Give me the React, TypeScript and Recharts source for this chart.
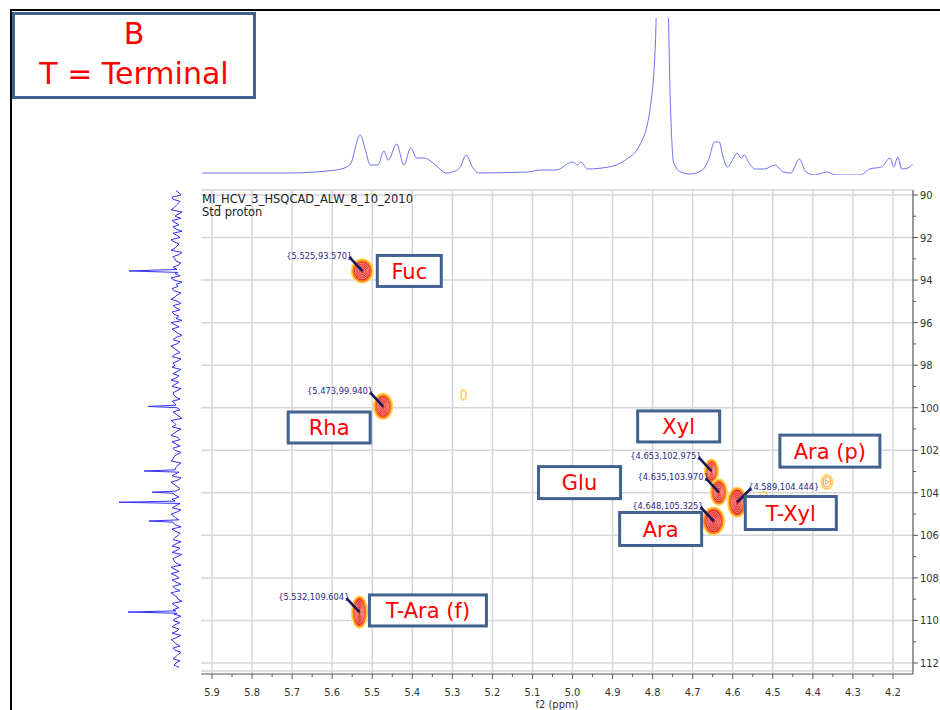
import React from 'react';
import { ScatterChart, Scatter, XAxis, YAxis, CartesianGrid, LineChart, Line } from 'recharts';

const FONT = '"DejaVu Sans", Verdana, sans-serif';
const TICKFONT = '"DejaVu Sans Condensed", "DejaVu Sans", sans-serif';

// ---------- axes ----------
const X_DOMAIN: [number, number] = [4.15, 5.9275];
const Y_DOMAIN: [number, number] = [89.765, 112.517];
const xMajorTicks = [5.9, 5.8, 5.7, 5.6, 5.5, 5.4, 5.3, 5.2, 5.1, 5.0, 4.9, 4.8, 4.7, 4.6, 4.5, 4.4, 4.3, 4.2];
const xMinorTicks = [5.85, 5.75, 5.65, 5.55, 5.45, 5.35, 5.25, 5.15, 5.05, 4.95, 4.85, 4.75, 4.65, 4.55, 4.45, 4.35, 4.25];
const yMajorTicks = [90, 92, 94, 96, 98, 100, 102, 104, 106, 108, 110, 112];
const yMinorTicks = [91, 93, 95, 97, 99, 101, 103, 105, 107, 109, 111];
const gridXValues = [...xMajorTicks, X_DOMAIN[0]];
const gridYValues = [Y_DOMAIN[0], ...yMajorTicks, 112.38];

// ---------- 2D cross peaks (f2 1H ppm, f1 13C ppm) ----------
const peakNames = ['Fuc', 'Rha', 'T-Ara (f)', 'Xyl', 'Glu', 'T-Xyl', 'Ara'];
const peakH = [5.525, 5.473, 5.532, 4.653, 4.635, 4.589, 4.648];
const peakC = [93.570, 99.940, 109.604, 102.975, 103.970, 104.444, 105.325];

const minorNames = ['u1', 'Ara (p)', 'u2'];
const minorH = [5.272, 4.365, 4.523];
const minorC = [99.40, 103.49, 104.0];

// ---------- label boxes (centre in ppm) ----------
const boxLabels = ['Fuc', 'Rha', 'T-Ara (f)', 'Xyl', 'Glu', 'Ara', 'T-Xyl', 'Ara (p)'];
const boxH = [5.4075, 5.6075, 5.361, 4.735, 4.9825, 4.78, 4.455, 4.3575];
const boxC = [93.57, 100.93, 109.53, 100.88, 103.52, 105.70, 104.95, 102.04];

// ---------- 1D projections ----------
const topSpectrumPpm = [5.924, 5.71, 5.59, 5.556, 5.53, 5.517, 5.505, 5.486, 5.471, 5.46, 5.439, 5.421, 5.404, 5.389, 5.37, 5.351, 5.334, 5.316, 5.299, 5.28, 5.266, 5.25, 5.235, 5.113, 5.077, 5.041, 5.0, 4.987, 4.979, 4.963, 4.91, 4.868, 4.832, 4.808, 4.793, 4.788, 4.764, 4.756, 4.748, 4.730, 4.706, 4.676, 4.658, 4.646, 4.634, 4.624, 4.613, 4.598, 4.589, 4.579, 4.571, 4.561, 4.544, 4.521, 4.494, 4.474, 4.455, 4.434, 4.417, 4.395, 4.366, 4.342, 4.282, 4.258, 4.229, 4.207, 4.198, 4.188, 4.178, 4.163, 4.151];
const topSpectrumInt = [2, 2, 5, 10, 40, 25, 10, 10, 24, 15, 31, 10, 27, 17, 17, 13, 7, 2, 3, 8, 20, 8, 2, 3, 5, 5, 13, 10, 13, 6, 8, 15, 30, 62, 132, 200, 200, 75, 13, 3, 1, 5, 18, 33, 33, 18, 8, 17, 22, 17, 20, 13, 6, 6, 10, 3, 2, 16, 3, 0, 3, 0, 0, 6, 8, 17, 8, 18, 6, 7, 11];

const leftNoiseA: [number, number][] = [
  [89.8, 9], [90.0, 4], [90.2, 12], [90.4, 7], [90.6, 11], [90.8, 3], [91.0, 10], [91.2, 13], [91.4, 6], [91.6, 9],
  [91.8, 12], [92.0, 5], [92.2, 11], [92.4, 8], [92.6, 14], [92.8, 6], [93.0, 10], [93.2, 4], [93.4, 12], [93.8, 5],
  [94.0, 11], [94.2, 9], [94.4, 13], [94.6, 4], [94.8, 10], [95.0, 7], [95.2, 12], [95.4, 5], [95.6, 11], [95.8, 9],
  [96.0, 14], [96.2, 6], [96.4, 10], [96.6, 3], [96.8, 12], [97.0, 8], [97.2, 11], [97.4, 5], [97.6, 13], [97.8, 7],
  [98.0, 10], [98.2, 4], [98.4, 12], [98.6, 9], [98.8, 6], [99.0, 13], [99.2, 8], [99.4, 11], [99.6, 5], [99.8, 10],
  [100.2, 12], [100.4, 6], [100.6, 14], [100.8, 9], [101.0, 4], [101.2, 11], [101.4, 7], [101.6, 13], [101.8, 5], [102.0, 10],
  [102.2, 8], [102.4, 12], [102.6, 4], [102.8, 9], [103.2, 13], [103.4, 7], [103.6, 11], [103.8, 5], [104.2, 6], [104.7, 13],
  [104.9, 8], [105.1, 11], [105.6, 4], [105.8, 10], [106.0, 7], [106.2, 12], [106.4, 9], [106.6, 5], [106.8, 13], [107.0, 8],
  [107.2, 11], [107.4, 4], [107.6, 10], [107.8, 14], [108.0, 6], [108.2, 9], [108.4, 12], [108.6, 5], [108.8, 11], [109.0, 7],
  [109.2, 13], [109.4, 6], [109.8, 4], [110.0, 12], [110.2, 10], [110.4, 6], [110.6, 13], [110.8, 8], [111.0, 11], [111.2, 5],
  [111.4, 10], [111.6, 7], [111.8, 12], [112.0, 9], [112.2, 6],
];
const leftNoiseB: [number, number][] = [
  [89.9, 6], [90.1, 13], [90.3, 5], [90.5, 9], [90.7, 14], [90.9, 7], [91.1, 4], [91.3, 10], [91.5, 12], [91.7, 3],
  [91.9, 8], [92.1, 14], [92.3, 6], [92.5, 10], [92.7, 3], [92.9, 12], [93.1, 9], [93.3, 7], [93.7, 10], [93.9, 14],
  [94.1, 3], [94.3, 7], [94.5, 11], [94.7, 8], [94.9, 14], [95.1, 4], [95.3, 9], [95.5, 13], [95.7, 6], [95.9, 3],
  [96.1, 10], [96.3, 13], [96.5, 7], [96.7, 9], [96.9, 5], [97.1, 14], [97.3, 8], [97.5, 10], [97.7, 4], [97.9, 12],
  [98.1, 13], [98.3, 8], [98.5, 6], [98.7, 14], [98.9, 10], [99.1, 4], [99.3, 12], [99.5, 9], [99.7, 13], [100.1, 5],
  [100.3, 9], [100.5, 3], [100.7, 11], [100.9, 13], [101.1, 8], [101.3, 14], [101.5, 5], [101.7, 9], [101.9, 12], [102.1, 4],
  [102.3, 11], [102.5, 14], [102.7, 7], [103.1, 9], [103.3, 4], [103.5, 14], [103.7, 8], [104.1, 10], [104.3, 13], [104.6, 9],
  [104.8, 4], [105.0, 14], [105.2, 9], [105.5, 10], [105.7, 13], [105.9, 5], [106.1, 10], [106.3, 4], [106.5, 13], [106.7, 8],
  [106.9, 3], [107.1, 12], [107.3, 9], [107.5, 14], [107.7, 6], [107.9, 9], [108.1, 13], [108.3, 4], [108.5, 10], [108.7, 14],
  [108.9, 8], [109.1, 3], [109.3, 10], [109.5, 12], [109.7, 11], [109.9, 9], [110.1, 5], [110.3, 13], [110.5, 8], [110.7, 4],
  [110.9, 14], [111.1, 9], [111.3, 12], [111.5, 4], [111.7, 9], [111.9, 5], [112.1, 11],
];
const leftPeaks: [number, number][] = [
  [93.5, 8], [93.57, 56], [93.64, 7],
  [99.88, 9], [99.94, 37], [100.0, 8],
  [102.92, 10], [102.975, 41], [103.03, 6],
  [103.92, 9], [103.97, 33], [104.02, 12],
  [104.39, 10], [104.444, 66], [104.5, 5],
  [105.27, 6], [105.325, 36], [105.38, 12],
  [109.55, 9], [109.604, 57], [109.66, 8],
];

// ---------- styles (pixels) ----------
const peakStyle: Record<string, { rx: number; ry: number; side: 'left' | 'right' }> = {
  'Fuc': { rx: 10, ry: 11, side: 'left' },
  'Rha': { rx: 8.5, ry: 12, side: 'left' },
  'T-Ara (f)': { rx: 7, ry: 15, side: 'left' },
  'Xyl': { rx: 6, ry: 11, side: 'left' },
  'Glu': { rx: 7.5, ry: 12, side: 'left' },
  'T-Xyl': { rx: 8.5, ry: 14, side: 'right' },
  'Ara': { rx: 10, ry: 13, side: 'left' },
};
const boxStyle: Record<string, { w: number; h: number }> = {
  'Fuc': { w: 64, h: 31 },
  'Rha': { w: 82, h: 31 },
  'T-Ara (f)': { w: 117, h: 31 },
  'Xyl': { w: 82, h: 31 },
  'Glu': { w: 82, h: 32 },
  'Ara': { w: 82, h: 33 },
  'T-Xyl': { w: 91, h: 33 },
  'Ara (p)': { w: 100, h: 32 },
};

const peaks = peakNames.map((name, i) => ({ name, h: peakH[i], c: peakC[i] }));
const minorPeaks = minorNames.map((name, i) => ({ name, h: minorH[i], c: minorC[i] }));
const boxes = boxLabels.map((name, i) => ({ name, h: boxH[i], c: boxC[i] }));
const topSpectrum = topSpectrumPpm.map((h, i) => ({ h, v: topSpectrumInt[i] }));
const leftSpectrum = [...leftNoiseA, ...leftNoiseB, ...leftPeaks].sort((a, b) => a[0] - b[0]).map(([c, v]) => ({ c, v }));

function PeakShape(props: any) {
  const { cx, cy, payload } = props;
  const st = peakStyle[payload.name];
  if (!st || cx == null) return null;
  const { rx, ry } = st;
  const rings = [0.84, 0.66, 0.48, 0.3];
  return (
    <g>
      <ellipse cx={cx} cy={cy} rx={rx + 1.6} ry={ry + 1.6} fill="#ffd54f" />
      <ellipse cx={cx} cy={cy} rx={rx} ry={ry} fill="#ff7b22" />
      <ellipse cx={cx} cy={cy} rx={rx - 1.8} ry={ry - 1.8} fill="#e22b2b" />
      {rings.map((s) => (
        <ellipse key={s} cx={cx} cy={cy} rx={(rx - 1.8) * s} ry={(ry - 1.8) * s} fill="none" stroke="#ffb8a8" strokeWidth={0.7} />
      ))}
    </g>
  );
}

function MinorShape(props: any) {
  const { cx, cy, payload } = props;
  if (cx == null) return null;
  if (payload.name === 'u1') {
    return <ellipse cx={cx} cy={cy} rx={2.5} ry={5} fill="none" stroke="#ffc928" strokeWidth={1.3} />;
  }
  if (payload.name === 'Ara (p)') {
    return (
      <g>
        <ellipse cx={cx} cy={cy} rx={5.5} ry={7} fill="#fff" stroke="#ffcf4a" strokeWidth={1.6} />
        <ellipse cx={cx} cy={cy} rx={3.8} ry={5} fill="none" stroke="#ff8a2a" strokeWidth={1} />
        <path d={`M ${cx - 1.5} ${cy - 2.5} L ${cx + 2} ${cy} L ${cx - 1.5} ${cy + 2.5} Z`} fill="none" stroke="#ff8a2a" strokeWidth={0.8} />
      </g>
    );
  }
  return <path d={`M ${cx - 4} ${cy + 4} A 4 5 0 0 1 ${cx + 4} ${cy + 4}`} fill="none" stroke="#ffc928" strokeWidth={1.3} />;
}

function AnnotShape(props: any) {
  const { cx, cy, payload } = props;
  const st = peakStyle[payload.name];
  if (!st || cx == null) return null;
  const left = st.side === 'left';
  const tx = left ? cx - 10 : cx + 11;
  const ty = cy - 12;
  const txt = `{${payload.h.toFixed(3)},${payload.c.toFixed(3)}}`;
  return (
    <g>
      <line x1={left ? tx - 3 : tx + 3} y1={ty - 2} x2={cx} y2={cy} stroke="#16165e" strokeWidth={2.6} />
      <text x={tx} y={ty} textAnchor={left ? 'end' : 'start'} fontSize={8.3} fill="#2a2a8a" fontFamily={FONT}>{txt}</text>
    </g>
  );
}

function BoxShape(props: any) {
  const { cx, cy, payload } = props;
  const st = boxStyle[payload.name];
  if (!st || cx == null) return null;
  const { w, h } = st;
  return (
    <g>
      <rect x={cx - w / 2} y={cy - h / 2} width={w} height={h} fill="#fff" stroke="#41618e" strokeWidth={3} />
      <text x={cx} y={cy} dy="0.36em" textAnchor="middle" fontSize={21} fill="#ff0000" fontFamily={FONT}>{payload.name}</text>
    </g>
  );
}

function NoShape() {
  return <g />;
}

function XTick(props: any) {
  const { x, y, payload } = props;
  const v = payload.value;
  const major = xMajorTicks.some((t) => Math.abs(t - v) < 1e-6);
  return (
    <g>
      <line x1={x} x2={x} y1={y} y2={y + (major ? 5 : 3)} stroke="#555" strokeWidth={1} />
      {major && (
        <text x={x} y={y + 22} textAnchor="middle" fontSize={11} fill="#333" fontFamily={TICKFONT}>{v.toFixed(1)}</text>
      )}
    </g>
  );
}

function YTick(props: any) {
  const { x, y, payload } = props;
  const v = payload.value;
  const major = yMajorTicks.includes(v);
  return (
    <g>
      <line x1={x} x2={x + (major ? 5 : 3)} y1={y} y2={y} stroke="#555" strokeWidth={1} />
      {major && (
        <text x={x + 7} y={y} dy="0.36em" textAnchor="start" fontSize={11} fill="#333" fontFamily={TICKFONT}>{String(v)}</text>
      )}
    </g>
  );
}

export default function App() {
  return (
    <div style={{ position: 'absolute', left: 0, top: 0, width: 940, height: 710, background: '#fff', overflow: 'hidden' }}>
      {/* outer frame */}
      <div style={{ position: 'absolute', left: 10, top: 9, width: 930, height: 2, background: '#000' }} />
      <div style={{ position: 'absolute', left: 10, top: 9, width: 2, height: 701, background: '#000' }} />

      {/* top 1D proton projection */}
      <div style={{ position: 'absolute', left: 0, top: 0 }}>
        <LineChart width={940} height={180} data={topSpectrum} margin={{ top: 18, right: 27, bottom: 5, left: 201 }}>
          <XAxis type="number" dataKey="h" domain={X_DOMAIN} reversed allowDataOverflow hide />
          <YAxis type="number" domain={[0, 157]} allowDataOverflow hide />
          <Line type="monotone" dataKey="v" stroke="#6f6ff2" strokeWidth={1} dot={false} isAnimationActive={false} />
        </LineChart>
      </div>

      {/* left 1D carbon projection */}
      <div style={{ position: 'absolute', left: 0, top: 0 }}>
        <ScatterChart width={200} height={710} margin={{ top: 190, right: 10, bottom: 36, left: 110 }}>
          <XAxis type="number" dataKey="v" domain={[-5, 75]} reversed allowDataOverflow hide />
          <YAxis type="number" dataKey="c" domain={Y_DOMAIN} reversed allowDataOverflow hide />
          <Scatter
            data={leftSpectrum}
            line={{ stroke: '#3333f0', strokeWidth: 1 }}
            lineType="joint"
            shape={<NoShape />}
            isAnimationActive={false}
          />
        </ScatterChart>
      </div>

      {/* main 2D HSQC */}
      <div style={{ position: 'absolute', left: 0, top: 0 }}>
        <ScatterChart width={940} height={710} margin={{ top: 190, right: 0, bottom: 0, left: 201 }}>
          <CartesianGrid stroke="#d6d6d6" strokeWidth={1.5} fill="none" verticalValues={gridXValues} horizontalValues={gridYValues} />
          <XAxis
            type="number"
            dataKey="h"
            domain={X_DOMAIN}
            reversed
            allowDataOverflow
            ticks={[...xMajorTicks, ...xMinorTicks]}
            interval={0}
            tick={<XTick />}
            tickLine={false}
            tickSize={0}
            tickMargin={0}
            axisLine={{ stroke: '#555' }}
            height={36}
            label={{ value: 'f2 (ppm)', position: 'insideBottom', offset: 2, fontSize: 11, fill: '#333', fontFamily: TICKFONT }}
          />
          <YAxis
            type="number"
            dataKey="c"
            orientation="right"
            domain={Y_DOMAIN}
            reversed
            allowDataOverflow
            ticks={[...yMajorTicks, ...yMinorTicks]}
            interval={0}
            tick={<YTick />}
            tickLine={false}
            tickSize={0}
            tickMargin={0}
            axisLine={{ stroke: '#555' }}
            width={27}
          />
          <Scatter data={minorPeaks} shape={<MinorShape />} isAnimationActive={false} />
          <Scatter data={peaks} shape={<PeakShape />} isAnimationActive={false} />
          <Scatter data={peaks} shape={<AnnotShape />} isAnimationActive={false} />
          <Scatter data={boxes} shape={<BoxShape />} isAnimationActive={false} />
        </ScatterChart>
      </div>

      {/* spectrum header */}
      <div style={{ position: 'absolute', left: 202, top: 193, fontFamily: FONT, fontSize: 11.5, lineHeight: '13px', color: '#222' }}>
        <div>MI_HCV_3_HSQCAD_ALW_8_10_2010</div>
        <div>Std proton</div>
      </div>

      {/* title box */}
      <div
        style={{
          position: 'absolute', left: 12, top: 12, width: 238, height: 81, border: '3px solid #41618e', background: '#fff',
          fontFamily: FONT, color: '#ff0000', fontSize: 30, textAlign: 'center',
        }}
      >
        <div style={{ lineHeight: '40px', marginTop: -1 }}>B</div>
        <div style={{ lineHeight: '40px' }}>T = Terminal</div>
      </div>
    </div>
  );
}
